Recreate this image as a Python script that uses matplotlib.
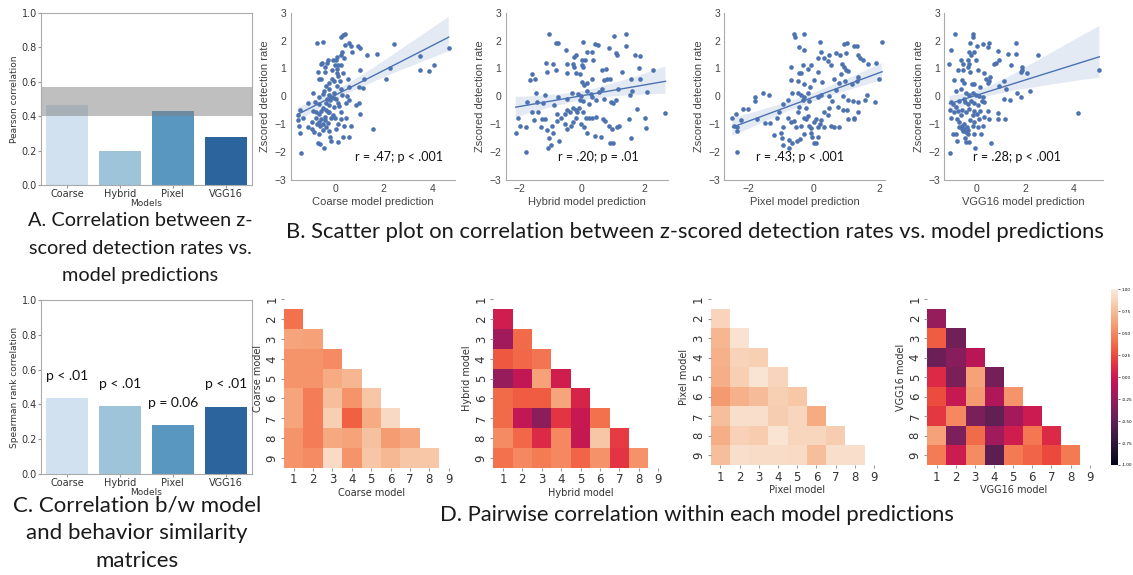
import numpy as np
import matplotlib
matplotlib.use("Agg")
import matplotlib.pyplot as plt
import seaborn as sns

W, H = 1133, 575

models = ["Coarse", "Hybrid", "Pixel", "VGG16"]
bar_colors = ["#d1e1ef", "#9ec4da", "#5a97c0", "#2c649e"]

# A: Pearson correlation of model predictions with z-scored detection rates
pearson_r = [0.465, 0.20, 0.43, 0.28]
ceiling_lo, ceiling_hi = 0.40, 0.57

# C: Spearman rank correlation between model and behaviour similarity matrices
spearman_r = [0.435, 0.39, 0.28, 0.385]
spearman_p = ["p < .01", "p < .01", "p = 0.06", "p < .01"]

# B: scatter points (model prediction, z-scored detection rate)
coarse_pts = [
    (0.30, 2.19), (0.40, 2.22), (0.23, 2.14), (-0.77, 1.91), (-0.50, 1.95), (0.55, 1.91),
    (0.65, 1.79), (0.92, 1.81), (1.02, 1.73), (0.28, 1.60), (0.69, 1.60), (0.23, 1.48),
    (1.29, 1.48), (1.72, 1.51), (2.41, 1.89), (-0.32, 1.32), (-0.11, 1.30), (0.03, 1.30),
    (-0.55, 1.20), (-0.34, 1.20), (0.00, 1.11), (0.10, 1.11), (-0.43, 1.05), (-0.73, 0.89),
    (-0.43, 0.86), (0.06, 0.83), (0.30, 0.83), (1.03, 0.95), (-0.66, 0.62), (-0.59, 0.62),
    (-0.15, 0.62), (-0.07, 0.56), (0.17, 0.56), (0.51, 0.62), (1.17, 0.62), (2.07, 0.62),
    (2.25, 1.02), (3.51, 1.46), (3.51, 0.96), (3.86, 0.90), (4.09, 1.11), (4.68, 1.75),
    (-0.41, 0.37), (-0.25, 0.25), (0.07, 0.37), (0.23, 0.25), (0.58, 0.33), (0.99, 0.33),
    (1.13, 0.31), (-0.91, 0.12), (-0.52, 0.09), (-0.25, 0.06), (-0.18, -0.02), (-0.07, -0.06),
    (0.03, -0.09), (0.26, 0.04), (0.48, 0.00), (-1.14, -0.25), (-0.84, -0.19), (-0.66, -0.28),
    (-0.39, -0.25), (-0.25, -0.31), (-0.08, -0.37), (0.14, -0.35), (0.44, -0.25), (0.99, -0.25),
    (-1.46, -0.49), (-0.94, -0.53), (-0.59, -0.53), (-0.39, -0.49), (-0.25, -0.56), (0.23, -0.56),
    (1.03, -0.62), (-1.56, -0.68), (-1.35, -0.78), (-0.80, -0.78), (-0.45, -0.74), (-0.18, -0.78),
    (0.00, -0.78), (0.44, -0.78), (-1.56, -0.86), (-0.69, -0.93), (-0.52, -0.99), (-0.32, -0.96),
    (-0.62, -1.05), (-0.41, -1.11), (0.37, -1.05), (0.65, -1.05), (-1.49, -1.07), (-0.99, -1.17),
    (-0.87, -1.27), (-0.52, -1.21), (-0.28, -1.23), (0.03, -1.17), (1.54, -1.17), (-1.46, -1.33),
    (-0.69, -1.36), (-0.21, -1.44), (0.30, -1.44), (0.55, -1.46), (-0.18, -1.60), (-0.73, -1.67),
    (-0.63, -1.70), (0.10, -1.64), (-0.48, -1.85), (-1.42, -2.04), (-0.59, -0.80), (-0.45, -0.86),
    (-0.66, -0.62), (-0.52, -0.43), (-0.21, -0.12), (-0.34, -0.09), (-0.04, 0.12), (-0.48, 0.19),
    (-0.70, -0.04), (0.10, -0.25), (-0.11, -0.68), (0.23, -0.80), (-0.76, -0.99), (-1.14, -1.11),
    (-0.59, 1.17), (0.40, 1.85), (-0.25, 0.49), (0.10, 0.74), (0.37, 1.36), (0.07, 1.42),
    (0.07, 0.99), (-0.14, 0.95), (0.23, 1.11), (0.58, -0.12), (0.85, -0.31), (-0.32, -0.56),
    (-0.80, -0.56), (0.10, -0.99), (-0.99, -0.93),
]
hybrid_pts = [
    (-1.05, 2.22), (-0.84, 1.91), (-0.76, 1.91), (0.04, 1.95), (0.40, 1.89), (0.52, 1.83),
    (1.02, 2.16), (1.42, 2.22), (-0.52, 1.67), (-0.20, 1.48), (-0.26, 1.42), (0.17, 1.60),
    (0.33, 1.60), (0.86, 1.73), (1.08, 1.54), (1.11, 1.48), (1.40, 1.79), (1.69, 1.48),
    (1.87, 1.46), (-1.16, 1.20), (-0.93, 1.17), (-0.49, 1.15), (-0.28, 1.17), (-0.01, 1.30),
    (0.10, 1.30), (0.36, 1.30), (-1.59, 0.80), (-1.66, 0.58), (-1.51, 0.62), (-1.13, 0.89),
    (-0.84, 0.93), (-0.26, 1.07), (-0.01, 1.11), (0.04, 1.05), (-0.49, 0.83), (-0.20, 0.83),
    (-0.06, 0.80), (0.65, 0.93), (0.76, 0.99), (1.29, 0.86), (1.82, 1.02), (2.28, 0.95),
    (0.01, 0.53), (0.06, 0.41), (0.15, 0.49), (0.33, 0.62), (0.70, 0.58), (0.81, 0.62),
    (0.89, 0.62), (1.58, 0.62), (1.87, 0.62), (-1.48, 0.12), (-1.19, 0.06), (-1.75, -0.19),
    (-1.43, -0.19), (-1.24, -0.25), (-0.77, -0.04), (-0.47, -0.09), (-0.33, 0.12), (-0.12, 0.09),
    (-0.06, -0.12), (0.04, -0.16), (0.15, 0.19), (0.28, 0.09), (0.33, -0.04), (0.44, -0.12),
    (0.54, 0.16), (0.65, 0.28), (0.70, -0.09), (0.92, -0.19), (1.00, -0.25), (1.08, -0.12),
    (1.16, 0.28), (1.53, 0.04), (1.61, 0.19), (2.09, 0.15), (-2.04, -0.78), (-1.98, -1.05),
    (-1.80, -1.11), (-2.12, -1.33), (-1.61, -0.56), (-1.55, -0.86), (-1.40, -0.56), (-1.29, -0.80),
    (-1.19, -0.80), (-1.32, -1.11), (-1.11, -1.21), (-0.95, -1.05), (-0.92, -1.33), (-1.06, -1.48),
    (-1.09, -1.85), (-1.00, -1.73), (-0.73, -1.60), (-1.80, -2.01), (-0.79, -0.90), (-0.66, -0.78),
    (-0.54, -0.62), (-0.47, -0.49), (-0.39, -0.56), (-0.54, -0.99), (-0.47, -1.17), (-0.36, -1.05),
    (-0.28, -0.93), (-0.20, -0.78), (-0.17, -0.56), (-0.10, -0.43), (0.04, -0.56), (0.12, -0.78),
    (-0.02, -0.99), (0.06, -1.11), (0.23, -0.78), (0.33, -0.78), (0.44, -0.74), (0.40, -1.42),
    (0.60, -1.44), (0.68, -0.80), (0.72, -0.90), (0.86, -1.05), (0.97, -1.17), (0.89, -1.67),
    (1.00, -1.67), (1.13, -1.11), (1.18, -1.05), (1.50, -0.80), (1.56, -1.48), (1.77, -0.46),
    (2.02, -0.78), (2.06, -1.15), (2.67, -0.58), (0.17, -1.30), (-0.20, -0.49), (-0.28, -0.41),
    (-0.89, -0.31), (-0.79, -0.62), (-0.04, 0.00), (0.22, -0.28),
]
pixel_pts = [
    (-0.61, 2.22), (-0.58, 2.14), (-0.32, 2.22), (-0.45, 1.77), (-0.30, 1.67), (0.19, 1.95),
    (0.22, 1.60), (0.93, 1.89), (1.01, 1.91), (1.24, 1.79), (1.32, 1.79), (2.09, 1.94),
    (0.47, 1.48), (0.68, 1.57), (0.80, 1.48), (0.13, 1.36), (0.30, 1.36), (0.98, 1.57),
    (1.36, 1.48), (1.42, 1.36), (1.50, 1.32), (-0.35, 1.14), (-0.09, 1.11), (-0.71, 1.05),
    (-0.45, 0.83), (-0.40, 0.83), (-0.17, 0.99), (0.11, 0.86), (0.42, 1.27), (0.52, 1.11),
    (0.85, 1.17), (0.91, 1.05), (0.99, 0.95), (1.04, 0.90), (1.65, 1.15), (1.89, 1.20),
    (2.01, 0.62), (-0.69, 0.58), (-0.50, 0.56), (-0.30, 0.46), (-0.11, 0.33), (0.01, 0.58),
    (0.25, 0.53), (0.63, 0.62), (0.78, 0.49), (0.83, 0.80), (0.95, 0.56), (1.16, 0.46),
    (1.32, 0.56), (1.36, 0.68), (-1.55, 0.12), (-1.81, -0.04), (-1.81, -0.16), (-2.02, -0.46),
    (-2.19, -0.46), (-2.40, -0.62), (-1.37, 0.04), (-0.96, -0.28), (-1.07, -0.56), (-0.81, -0.12),
    (-0.66, 0.12), (-0.48, 0.12), (-0.40, 0.04), (-0.35, -0.12), (-0.30, -0.04), (-0.17, 0.12),
    (-0.14, -0.16), (0.11, -0.04), (0.22, 0.04), (0.47, 0.00), (0.54, -0.16), (0.68, 0.21),
    (0.88, 0.00), (1.04, -0.12), (1.19, -0.16), (1.36, -0.19), (1.57, -0.12), (1.62, 0.04),
    (1.88, -0.21), (0.73, -0.37), (0.88, -0.49), (1.02, -0.49), (1.34, -0.56), (1.24, -0.80),
    (-2.50, -0.78), (-2.45, -1.07), (-2.35, -1.11), (-2.37, -1.23), (-2.25, -0.86), (-1.75, -0.83),
    (-1.51, -0.95), (-1.34, -0.95), (-1.12, -0.78), (-0.96, -1.11), (-1.02, -1.32), (-0.81, -0.78),
    (-0.71, -0.93), (-0.61, -0.90), (-0.55, -1.11), (-0.48, -0.56), (-0.40, -1.05), (-0.32, -0.78),
    (-0.25, -0.80), (-0.17, -0.70), (-0.14, -1.05), (-0.09, -1.15), (-0.01, -0.93), (0.06, -0.80),
    (0.11, -1.11), (0.19, -0.99), (0.22, -0.86), (0.32, -1.11), (0.52, -1.07), (0.63, -1.11),
    (0.78, -1.11), (1.04, -0.80), (1.24, -0.77), (-1.22, -1.40), (-0.99, -1.48), (-0.76, -1.58),
    (-0.66, -1.67), (-0.52, -1.60), (-0.42, -1.52), (-0.32, -1.36), (-0.07, -1.44), (0.01, -1.67),
    (0.06, -1.69), (0.11, -1.44), (-0.09, -1.32), (-0.76, -1.85), (-0.96, -1.73), (-2.35, -2.01),
    (0.32, -0.56), (0.42, -0.68), (0.47, -0.43), (-0.25, -0.43), (-0.45, -0.37),
]
vgg_pts = [
    (-0.91, 2.22), (-0.18, 2.22), (-0.18, 2.14), (-1.07, 1.67), (-1.14, 1.15), (-0.29, 1.91),
    (0.00, 1.81), (0.23, 1.88), (0.48, 1.91), (0.47, 1.77), (-0.32, 1.60), (-0.25, 1.48),
    (-0.11, 1.60), (-0.66, 1.30), (-0.59, 1.17), (-0.39, 1.30), (-0.32, 1.17), (-0.04, 1.30),
    (0.88, 1.63), (1.61, 1.91), (1.27, 1.52), (1.61, 1.52), (2.53, 1.48), (0.92, 1.30),
    (0.72, 1.17), (0.78, 1.20), (-0.80, 0.95), (-0.59, 0.93), (-0.39, 1.05), (-0.28, 0.86),
    (0.03, 0.93), (0.28, 0.83), (0.37, 0.62), (0.44, 0.49), (0.51, 0.56), (0.55, 0.70),
    (1.85, 0.93), (1.82, 0.86), (2.07, 0.83), (1.40, 1.11), (1.88, 1.05), (-0.94, 0.58),
    (-0.63, 0.58), (-0.52, 0.49), (-0.22, 0.43), (-0.11, 0.46), (0.14, 0.33), (0.92, 0.37),
    (1.10, 0.56), (1.20, 0.28), (1.65, 0.12), (2.20, 0.19), (1.82, -0.04), (1.10, -0.09),
    (1.38, -0.12), (5.06, 0.95), (4.16, -0.58), (-0.87, 0.19), (-0.66, 0.25), (-0.45, 0.12),
    (-0.32, 0.04), (-0.18, 0.12), (-0.04, 0.06), (0.10, 0.00), (0.23, -0.04), (-1.07, -0.19),
    (-1.01, -0.28), (-0.87, -0.37), (-0.73, -0.16), (-0.55, -0.09), (-0.50, -0.21), (-0.39, -0.28),
    (-0.25, -0.16), (-0.11, -0.25), (0.03, -0.31), (0.19, -0.16), (0.30, -0.21), (-1.10, -0.49),
    (-0.94, -0.56), (-0.80, -0.53), (-0.63, -0.49), (-0.45, -0.56), (-0.32, -0.46), (-0.14, -0.53),
    (0.00, -0.62), (0.14, -0.53), (0.44, -0.53), (0.88, -0.58), (0.88, -0.83), (1.17, -0.80),
    (-1.07, -0.78), (-0.83, -0.83), (-0.73, -0.93), (-0.63, -1.05), (-0.52, -0.99), (-0.41, -1.11),
    (-0.28, -0.86), (-0.11, -0.93), (0.10, -0.83), (0.28, -0.74), (0.51, -0.80), (-0.73, -1.11),
    (-0.63, -1.17), (-0.52, -1.17), (-0.39, -1.20), (-0.59, -1.23), (-0.45, -1.27), (-1.01, -1.36),
    (-0.87, -1.36), (-0.50, -1.48), (-0.39, -1.36), (-0.11, -1.36), (0.17, -1.36), (-0.83, -1.60),
    (-0.45, -1.64), (-0.32, -1.64), (-0.08, -1.85), (0.58, -1.67), (-1.10, -2.04), (0.23, -1.05),
    (0.06, -1.11), (-0.18, -1.05), (-0.18, -0.68), (-0.66, -0.68),
]
scatter_r = ["r = .47; p < .001", "r = .20; p = .01", "r = .43; p < .001", "r = .28; p < .001"]

# D: pairwise correlations (lower triangle, rows 2..9)
coarse_tri = [
    [0.40],
    [0.64, 0.62],
    [0.56, 0.56, 0.52],
    [0.56, 0.56, 0.67, 0.72],
    [0.64, 0.46, 0.76, 0.56, 0.80],
    [0.64, 0.46, 0.85, 0.33, 0.67, 0.90],
    [0.56, 0.46, 0.66, 0.63, 0.78, 0.60, 0.66],
    [0.56, 0.52, 0.91, 0.56, 0.80, 0.73, 0.80, 0.81],
]
hybrid_tri = [
    [0.02],
    [-0.20, 0.38],
    [0.30, 0.36, 0.42],
    [-0.25, -0.05, 0.62, 0.03],
    [0.38, 0.32, 0.32, 0.64, 0.07],
    [0.38, -0.05, -0.30, 0.15, -0.02, 0.40],
    [0.52, 0.36, 0.10, 0.50, -0.03, 0.80, 0.18],
    [0.40, 0.50, 0.45, 0.50, 0.35, 0.55, 0.15, 0.55],
]
pixel_tri = [
    [0.88],
    [0.72, 0.95],
    [0.70, 0.87, 0.85],
    [0.68, 0.85, 0.96, 0.88],
    [0.58, 0.70, 0.75, 0.85, 0.81],
    [0.76, 0.93, 0.93, 0.84, 0.89, 0.67],
    [0.68, 0.86, 0.83, 0.96, 0.89, 0.89, 0.84],
    [0.76, 0.93, 0.92, 0.92, 0.91, 0.76, 0.93, 0.93],
]
vgg_tri = [
    [-0.25],
    [0.32, -0.42],
    [-0.45, -0.32, -0.08],
    [0.10, -0.37, 0.62, -0.40],
    [0.25, -0.02, 0.58, -0.13, 0.56],
    [0.17, 0.50, -0.38, -0.50, -0.18, 0.00],
    [0.62, -0.36, 0.38, -0.20, 0.03, 0.43, 0.10],
    [0.45, 0.00, 0.52, -0.52, 0.44, 0.35, 0.24, 0.44],
]
heat_ticks = [str(i) for i in range(1, 10)]

fig = plt.figure(figsize=(W / 100, H / 100), dpi=100)


def add_ax(l, t, r, b):
    # rect given in pixels from the top-left corner
    return fig.add_axes([l / W, 1 - b / H, (r - l) / W, (b - t) / H])


def draw_bars(ax, vals, ylabel):
    ax.bar(range(len(vals)), vals, width=0.8, color=bar_colors)
    ax.set_xlim(-0.5, 3.5)
    ax.set_ylim(0, 1)
    ax.set_xticks(range(len(models)), models)
    ax.set_yticks(np.arange(0, 1.01, 0.2))
    ax.tick_params(labelsize=7, length=2, color="#999999", pad=1, labelcolor="#333333")
    ax.set_ylabel(ylabel, fontsize=6.5, labelpad=2, color="#333333")
    ax.set_xlabel("Models", fontsize=6.5, labelpad=0, color="#333333")
    for sp in ax.spines.values():
        sp.set_color("#aaaaaa")


def draw_scatter(ax, pts, xlim, xticks, xlabel, txt, tx):
    x, y = np.array(pts).T
    sns.regplot(x=x, y=y, ax=ax, color="#4c72b0", seed=0,
                scatter_kws=dict(s=11, linewidths=0, alpha=1),
                line_kws=dict(lw=1))
    ax.set_xlim(*xlim)
    ax.set_ylim(-3, 3)
    ax.set_xticks(xticks)
    ax.set_yticks(range(-3, 4))
    ax.tick_params(length=0, labelsize=7.5, labelcolor="#444444", pad=3)
    for lab in ax.get_xticklabels() + ax.get_yticklabels():
        lab.set_family("Liberation Sans")
    ax.set_xlabel(xlabel, fontsize=8, color="#444444", family="Liberation Sans", labelpad=2)
    ax.set_ylabel("Zscored detection rate", fontsize=8, color="#444444",
                  family="Liberation Sans", labelpad=3)
    ax.spines[["top", "right"]].set_visible(False)
    for s in ["left", "bottom"]:
        ax.spines[s].set_color("#aaaaaa")
    ax.text(tx, 0.137, txt, transform=ax.transAxes, ha="center", va="center",
            fontsize=9, family="Lato", color="#111111")


def draw_heat(ax, tri, label, cbar_ax=None):
    m = np.full((9, 9), np.nan)
    for i, row in enumerate(tri):
        m[i + 1, :len(row)] = row
    mask = np.triu(np.ones((9, 9), dtype=bool))
    sns.heatmap(m, mask=mask, cmap="rocket", vmin=-1, vmax=1, ax=ax,
                cbar=cbar_ax is not None, cbar_ax=cbar_ax,
                xticklabels=heat_ticks, yticklabels=heat_ticks)
    ax.tick_params(labelsize=8.5, length=2, pad=2, color="#999999", labelcolor="#333333")
    plt.setp(ax.get_xticklabels(), rotation=0)
    plt.setp(ax.get_yticklabels(), rotation=90, va="center")
    ax.set_xlabel(label, fontsize=7, color="#333333", labelpad=1)
    ax.set_ylabel(label, fontsize=7, color="#333333", labelpad=2)


# A and C
axA = add_ax(41, 13, 252, 185)
draw_bars(axA, pearson_r, "Pearson correlation")
axA.axhspan(ceiling_lo, ceiling_hi, color="gray", alpha=0.5, lw=0)

axC = add_ax(41, 300, 252, 474)
draw_bars(axC, spearman_r, "Spearman rank correlation")
for i, (v, p) in enumerate(zip(spearman_r, spearman_p)):
    axC.text(i, v + 0.13, p, ha="center", va="center", fontsize=10, family="Lato",
             color="#111111")

# B
sc_boxes = [(290.7, 455), (505.7, 668.3), (724.3, 885), (944.3, 1103.3)]
sc_xlims = [(-1.85, 4.94), (-2.44, 2.76), (-2.75, 2.18), (-1.35, 5.22)]
sc_xticks = [[0, 2, 4], [-2, 0, 2], [-2, 0, 2], [0, 2, 4]]
sc_tx = [0.66, 0.57, 0.47, 0.455]
for k, pts in enumerate([coarse_pts, hybrid_pts, pixel_pts, vgg_pts]):
    l, r = sc_boxes[k]
    ax = add_ax(l, 12.7, r, 180)
    draw_scatter(ax, pts, sc_xlims[k], sc_xticks[k], f"{models[k]} model prediction",
                 scatter_r[k], sc_tx[k])

# D
hm_boxes = [(284, 289.5, 458.5, 467.7), (493.3, 289.5, 667.7, 467.7),
            (710.7, 289.2, 883.8, 465), (927.3, 289.2, 1099.2, 465)]
cax = add_ax(1110.7, 289.3, 1118.3, 465)
for k, tri in enumerate([coarse_tri, hybrid_tri, pixel_tri, vgg_tri]):
    ax = add_ax(*hm_boxes[k])
    draw_heat(ax, tri, f"{models[k]} model", cbar_ax=cax if k == 3 else None)
cax.set_yticks(np.arange(-1, 1.01, 0.25))
cax.set_yticklabels([f"{v:.2f}" for v in np.arange(-1, 1.01, 0.25)])
cax.tick_params(labelsize=3, length=1.5, width=0.4, pad=1)

# panel captions: (centre x, line centres y, font size, lines)
captions = [
    (140, [221, 248, 275], 14.3, ["A. Correlation between z-", "scored detection rates vs.",
                                 "model predictions"]),
    (137, [505, 533, 561], 16, ["C. Correlation b/w model", "and behavior similarity",
                                "matrices"]),
    (695, [232], 15.8, ["B. Scatter plot on correlation between z-scored detection rates vs. "
                        "model predictions"]),
    (697, [515], 15.8, ["D. Pairwise correlation within each model predictions"]),
]
for cx, ys, fs, lines in captions:
    for cy, s in zip(ys, lines):
        fig.text(cx / W, 1 - cy / H, s, ha="center", va="center", fontsize=fs,
                 family="Lato", color="#1a1a1a")

fig.savefig("out.png", dpi=100)
